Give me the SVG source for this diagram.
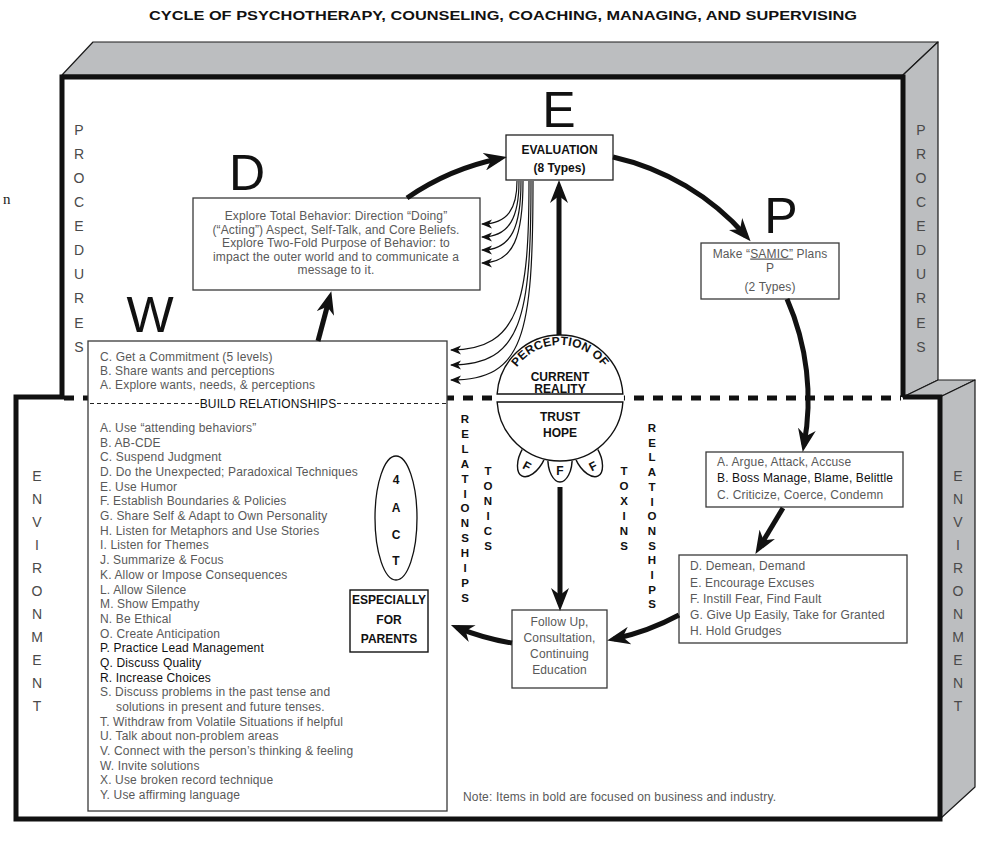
<svg xmlns="http://www.w3.org/2000/svg" width="1004" height="841" viewBox="0 0 1004 841">
<defs>
<style>
.face{fill:#bcbec0;stroke:#1a1a1a;stroke-width:1.2;stroke-linejoin:round}
.frame{fill:none;stroke:#111;stroke-width:5}
.dash{fill:none;stroke:#111;stroke-width:5;stroke-dasharray:10 9}
.box{fill:#fff;stroke:#3a3a3a;stroke-width:1.3}
.line{fill:#fff;stroke:#111;stroke-width:1.4}
.t{font-family:"Liberation Sans",Arial,sans-serif;font-size:12px;letter-spacing:0.15px;fill:#595959}
.tc{text-anchor:middle}
.dk{fill:#111}
.b{font-weight:bold;letter-spacing:0}
.big{font-family:"Liberation Sans",Arial,sans-serif;font-size:50px;fill:#111;text-anchor:middle}
.vl{font-family:"Liberation Sans",Arial,sans-serif;font-size:14px;fill:#4a4a4a;text-anchor:middle}
.vr{font-family:"Liberation Sans",Arial,sans-serif;font-size:11.5px;font-weight:bold;fill:#111;text-anchor:middle}
.thick{fill:none;stroke:#111;stroke-width:5;marker-end:url(#head)}
.thin{fill:none;stroke:#111;stroke-width:1.2;marker-end:url(#barb)}
</style>
<marker id="head" markerUnits="userSpaceOnUse" markerWidth="24" markerHeight="18" refX="16" refY="9" orient="auto" viewBox="0 0 24 18">
<path d="M0,0 L23,9 L0,18 L7,9 Z" fill="#111"/>
</marker>
<marker id="barb" markerUnits="userSpaceOnUse" markerWidth="12" markerHeight="10" refX="10" refY="4.5" orient="auto" viewBox="0 0 12 10">
<path d="M0,0 L11,4.5 L0,9 L3,4.5 Z" fill="#111"/>
</marker>
<path id="arcTop" d="M507,398 A53,53 0 0 1 613,398"/>
</defs>

<rect width="1004" height="841" fill="#fff"/>

<!-- heading -->
<text x="503" y="20" class="t b dk tc" font-size="12" textLength="708" lengthAdjust="spacingAndGlyphs">CYCLE OF PSYCHOTHERAPY, COUNSELING, COACHING, MANAGING, AND SUPERVISING</text>
<text x="3" y="204" font-family="Liberation Serif, serif" font-size="15" fill="#222">n</text>

<!-- procedures box (upper) -->
<g id="procedures">
<polygon class="face" points="62,75 93,42 938,42 903,75"/>
<polygon class="face" points="903,75 938,42 938,380 903,397"/>
<path class="frame" d="M62,398 V77 H903 V397"/>
<text class="vl"><tspan x="79" y="135">P</tspan><tspan x="79" y="159">R</tspan><tspan x="79" y="183">O</tspan><tspan x="79" y="207">C</tspan><tspan x="79" y="231">E</tspan><tspan x="79" y="255">D</tspan><tspan x="79" y="279">U</tspan><tspan x="79" y="303">R</tspan><tspan x="79" y="328">E</tspan><tspan x="79" y="352">S</tspan></text>
<text class="vl"><tspan x="921" y="135">P</tspan><tspan x="921" y="159">R</tspan><tspan x="921" y="183">O</tspan><tspan x="921" y="207">C</tspan><tspan x="921" y="231">E</tspan><tspan x="921" y="255">D</tspan><tspan x="921" y="279">U</tspan><tspan x="921" y="303">R</tspan><tspan x="921" y="328">E</tspan><tspan x="921" y="352">S</tspan></text>
</g>

<!-- environment box (lower) -->
<g id="environment">
<polygon class="face" points="903,397 938,380 975,380 940,397"/>
<polygon class="face" points="940,397 975,380 975,787 940,819"/>
<path class="frame" d="M903,397 H940 V819 H16 V397 H64"/>
<path class="dash" d="M64,398 H901"/>
<text class="vl"><tspan x="37" y="481">E</tspan><tspan x="37" y="504">N</tspan><tspan x="37" y="527">V</tspan><tspan x="37" y="550">I</tspan><tspan x="37" y="573">R</tspan><tspan x="37" y="596">O</tspan><tspan x="37" y="619">N</tspan><tspan x="37" y="642">M</tspan><tspan x="37" y="665">E</tspan><tspan x="37" y="688">N</tspan><tspan x="37" y="711">T</tspan></text>
<text class="vl"><tspan x="958" y="481">E</tspan><tspan x="958" y="504">N</tspan><tspan x="958" y="527">V</tspan><tspan x="958" y="550">I</tspan><tspan x="958" y="573">R</tspan><tspan x="958" y="596">O</tspan><tspan x="958" y="619">N</tspan><tspan x="958" y="642">M</tspan><tspan x="958" y="665">E</tspan><tspan x="958" y="688">N</tspan><tspan x="958" y="711">T</tspan></text>
<text x="463" y="801" class="t" letter-spacing="0.3">Note: Items in bold are focused on business and industry.</text>
</g>

<!-- W: wants and relationship building -->
<g id="node-w">
<text x="150" y="332" class="big">W</text>
<rect class="box" x="88" y="341" width="359" height="470"/>
<text class="t" x="100" y="361">C. Get a Commitment (5 levels)</text>
<text class="t" x="100" y="375">B. Share wants and perceptions</text>
<text class="t" x="100" y="389">A. Explore wants, needs, &amp; perceptions</text>
<path d="M90,403.5 H199 M337,403.5 H446" fill="none" stroke="#222" stroke-width="1" stroke-dasharray="4 3"/>
<text class="t dk tc" x="268" y="408" letter-spacing="0">BUILD RELATIONSHIPS</text>
<text class="t" x="100" y="432">A. Use “attending behaviors”</text>
<text class="t" x="100" y="446.7">B. AB-CDE</text>
<text class="t" x="100" y="461.4">C. Suspend Judgment</text>
<text class="t" x="100" y="476">D. Do the Unexpected; Paradoxical Techniques</text>
<text class="t" x="100" y="490.7">E. Use Humor</text>
<text class="t" x="100" y="505.4">F. Establish Boundaries &amp; Policies</text>
<text class="t" x="100" y="520.1">G. Share Self &amp; Adapt to Own Personality</text>
<text class="t" x="100" y="534.8">H. Listen for Metaphors and Use Stories</text>
<text class="t" x="100" y="549.4">I. Listen for Themes</text>
<text class="t" x="100" y="564.1">J. Summarize &amp; Focus</text>
<text class="t" x="100" y="578.8">K. Allow or Impose Consequences</text>
<text class="t" x="100" y="593.5">L. Allow Silence</text>
<text class="t" x="100" y="608.2">M. Show Empathy</text>
<text class="t" x="100" y="622.8">N. Be Ethical</text>
<text class="t" x="100" y="637.5">O. Create Anticipation</text>
<text class="t dk" x="100" y="652.2">P. Practice Lead Management</text>
<text class="t dk" x="100" y="666.9">Q. Discuss Quality</text>
<text class="t dk" x="100" y="681.6">R. Increase Choices</text>
<text class="t" x="100" y="696.2">S. Discuss problems in the past tense and</text>
<text class="t" x="116" y="710.9">solutions in present and future tenses.</text>
<text class="t" x="100" y="725.6">T. Withdraw from Volatile Situations if helpful</text>
<text class="t" x="100" y="740.3">U. Talk about non-problem areas</text>
<text class="t" x="100" y="755">V. Connect with the person’s thinking &amp; feeling</text>
<text class="t" x="100" y="769.6">W. Invite solutions</text>
<text class="t" x="100" y="784.3">X. Use broken record technique</text>
<text class="t" x="100" y="799">Y. Use affirming language</text>
</g>

<g id="node-4act">
<ellipse cx="396" cy="518" rx="21" ry="62" fill="#fff" stroke="#111" stroke-width="1.3"/>
<text class="t b dk tc" font-size="17"><tspan x="396" y="484">4</tspan><tspan x="396" y="512">A</tspan><tspan x="396" y="539">C</tspan><tspan x="396" y="565">T</tspan></text>
</g>

<g id="node-parents">
<rect x="350" y="590" width="78" height="62" fill="#fff" stroke="#111" stroke-width="1.4"/>
<text class="t b dk tc" font-size="11.5" x="389" y="604">ESPECIALLY</text>
<text class="t b dk tc" font-size="11.5" x="389" y="624">FOR</text>
<text class="t b dk tc" font-size="11.5" x="389" y="643">PARENTS</text>
</g>

<!-- D: doing -->
<g id="node-d">
<text x="247" y="190" class="big">D</text>
<rect class="box" x="193" y="198" width="287" height="92"/>
<text class="t tc" x="336" y="220">Explore Total Behavior: Direction “Doing”</text>
<text class="t tc" x="336" y="233.5">(“Acting”) Aspect, Self-Talk, and Core Beliefs.</text>
<text class="t tc" x="336" y="247">Explore Two-Fold Purpose of Behavior: to</text>
<text class="t tc" x="336" y="260.5">impact the outer world and to communicate a</text>
<text class="t tc" x="336" y="274">message to it.</text>
</g>

<!-- E: evaluation -->
<g id="node-e">
<text x="559" y="127" class="big">E</text>
<rect x="506" y="135" width="107" height="45" fill="#fff" stroke="#222" stroke-width="1.3"/>
<text class="t b dk tc" font-size="11.5" x="559.5" y="154">EVALUATION</text>
<text class="t b dk tc" font-size="11.5" x="559.5" y="172">(8 Types)</text>
</g>

<!-- P: planning -->
<g id="node-p">
<text x="781" y="233" class="big">P</text>
<rect class="box" x="701" y="243" width="138" height="56"/>
<text class="t tc" x="770" y="257.5">Make “<tspan text-decoration="underline">SAMIC”</tspan> Plans</text>
<text class="t tc" x="770" y="272">P</text>
<text class="t tc" x="770" y="291">(2 Types)</text>
</g>

<!-- deadly habits -->
<g id="node-abc">
<rect class="box" x="706" y="452" width="197" height="55"/>
<text class="t" x="717" y="466">A. Argue, Attack, Accuse</text>
<text class="t dk" x="717" y="482">B. Boss Manage, Blame, Belittle</text>
<text class="t" x="717" y="499">C. Criticize, Coerce, Condemn</text>
</g>
<g id="node-dh">
<rect class="box" x="679" y="555" width="228" height="88"/>
<text class="t" x="690" y="570">D. Demean, Demand</text>
<text class="t" x="690" y="586.5">E. Encourage Excuses</text>
<text class="t" x="690" y="603">F. Instill Fear, Find Fault</text>
<text class="t" x="690" y="619">G. Give Up Easily, Take for Granted</text>
<text class="t" x="690" y="635">H. Hold Grudges</text>
</g>

<g id="node-follow">
<rect class="box" x="512" y="610" width="95" height="78"/>
<text class="t tc" x="559.5" y="626">Follow Up,</text>
<text class="t tc" x="559.5" y="641.5">Consultation,</text>
<text class="t tc" x="559.5" y="658">Continuing</text>
<text class="t tc" x="559.5" y="673.5">Education</text>
</g>

<!-- side labels -->
<g id="labels-relationships">
<text class="vr"><tspan x="465" y="423">R</tspan><tspan x="465" y="437.9">E</tspan><tspan x="465" y="452.8">L</tspan><tspan x="465" y="467.7">A</tspan><tspan x="465" y="482.6">T</tspan><tspan x="465" y="497.5">I</tspan><tspan x="465" y="512.4">O</tspan><tspan x="465" y="527.3">N</tspan><tspan x="465" y="542.2">S</tspan><tspan x="465" y="557.1">H</tspan><tspan x="465" y="572">I</tspan><tspan x="465" y="586.9">P</tspan><tspan x="465" y="601.8">S</tspan></text>
<text class="vr"><tspan x="488" y="475">T</tspan><tspan x="488" y="490">O</tspan><tspan x="488" y="505">N</tspan><tspan x="488" y="520">I</tspan><tspan x="488" y="535">C</tspan><tspan x="488" y="550">S</tspan></text>
<text class="vr"><tspan x="624" y="475">T</tspan><tspan x="624" y="490">O</tspan><tspan x="624" y="505">X</tspan><tspan x="624" y="520">I</tspan><tspan x="624" y="535">N</tspan><tspan x="624" y="550">S</tspan></text>
<text class="vr"><tspan x="652" y="432">R</tspan><tspan x="652" y="446.7">E</tspan><tspan x="652" y="461.4">L</tspan><tspan x="652" y="476.1">A</tspan><tspan x="652" y="490.8">T</tspan><tspan x="652" y="505.5">I</tspan><tspan x="652" y="520.2">O</tspan><tspan x="652" y="534.9">N</tspan><tspan x="652" y="549.6">S</tspan><tspan x="652" y="564.3">H</tspan><tspan x="652" y="579">I</tspan><tspan x="652" y="593.7">P</tspan><tspan x="652" y="608.4">S</tspan></text>
</g>

<!-- perception of current reality -->
<g id="node-reality">
<g transform="translate(534,453) rotate(28)"><path class="line" d="M-12,0 C-13,16 -6,26 0,26 C6,26 13,16 12,0"/><text class="t b dk tc" font-size="10" x="0" y="19">F</text></g>
<g transform="translate(560,456)"><path class="line" d="M-12,0 C-13,16 -6,26 0,26 C6,26 13,16 12,0"/><text class="t b dk tc" font-size="10" x="0" y="19">F</text></g>
<g transform="translate(586,453) rotate(-28)"><path class="line" d="M-12,0 C-13,16 -6,26 0,26 C6,26 13,16 12,0"/><text class="t b dk tc" font-size="10" x="0" y="19">F</text></g>
<circle cx="560" cy="398" r="64" fill="#fff"/>
<path class="line" d="M497.13,394 A63,63 0 0 1 622.87,394 Z"/>
<path class="line" d="M497.13,402 A63,63 0 0 0 622.87,402 Z"/>
<text class="t b dk" font-size="10.5"><textPath href="#arcTop" startOffset="50%" text-anchor="middle" letter-spacing="0.2">PERCEPTION OF</textPath></text>
<text class="t b dk tc" font-size="11" x="560" y="380.5">CURRENT</text>
<text class="t b dk tc" font-size="11" x="560" y="392.5">REALITY</text>
<text class="t b dk tc" font-size="11.5" x="560" y="421">TRUST</text>
<text class="t b dk tc" font-size="11.5" x="560" y="437">HOPE</text>
</g>

<!-- cycle connectors -->
<g id="connectors">
<path class="thick" d="M318,341 L329.5,298"/>
<path class="thick" d="M407,198 A250,250 0 0 1 500,158.5"/>
<path class="thick" d="M613,157 A250,250 0 0 1 746,236"/>
<path class="thick" d="M787,299 A250,250 0 0 1 804,445"/>
<path class="thick" d="M783,508 L759,548"/>
<path class="thick" d="M679,615 A247,247 0 0 1 614,639"/>
<path class="thick" d="M512,643 A248,248 0 0 1 457.4,627.6"/>
<path class="thick" d="M559,335 L559,187"/>
<path class="thick" d="M560,487 L560,604"/>
<path class="thin" d="M517,181 C517,208 508,224 482,224"/>
<path class="thin" d="M519,181 C519,216 510,237 482,237"/>
<path class="thin" d="M521,181 C521,226 512,250 482,250"/>
<path class="thin" d="M523,181 C523,236 514,263 482,263"/>
<path class="thin" d="M529,181 C529,300 520,350 451,350"/>
<path class="thin" d="M531,181 C531,318 522,365 451,365"/>
<path class="thin" d="M533,181 C533,336 524,380 451,380"/>
</g>
</svg>
